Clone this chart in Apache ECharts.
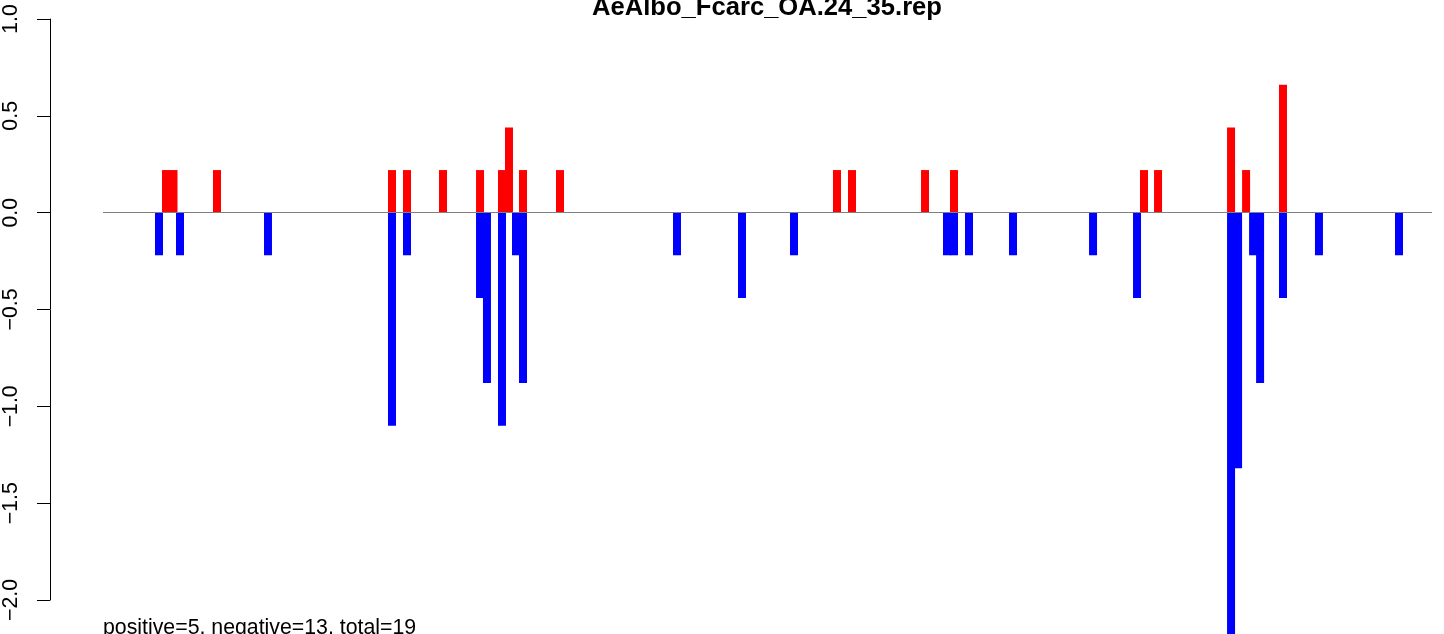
<!DOCTYPE html>
<html>
<head>
<meta charset="utf-8">
<script src="https://cdn.jsdelivr.net/npm/echarts@6/dist/echarts.min.js"></script>
<style>
  html, body { margin: 0; padding: 0; background: #fff; }
  #chart { width: 1444px; height: 634px; }
</style>
</head>
<body>
<div id="chart"></div>
<script>
// ---- data ----
const titleText = 'AeAlbo_Fcarc_OA.24_35.rep';
const footerText = 'positive=5, negative=13, total=19';

// positions along the x range (0 .. 184) and values of positive (red) bars
const posX = [8.72, 9.76, 15.78, 40.01, 42.09, 47.07, 52.20, 55.24, 56.21, 58.15,
              63.27, 101.62, 103.70, 113.81, 117.82, 144.13, 146.07, 156.18, 158.26, 163.37];
const posVal = [0.22, 0.22, 0.22, 0.22, 0.22, 0.22, 0.22, 0.22, 0.44, 0.22,
                0.22, 0.22, 0.22, 0.22, 0.22, 0.22, 0.22, 0.44, 0.22, 0.66];

// positions and values of negative (blue) bars
const negX = [7.75, 10.66, 22.84, 40.01, 42.09, 52.20, 53.16, 55.24, 57.18, 58.15,
              79.47, 88.47, 95.67, 116.85, 117.82, 119.90, 125.99, 137.07, 143.16,
              156.18, 157.15, 159.23, 160.20, 163.37, 168.35, 179.43];
const negVal = [-0.22, -0.22, -0.22, -1.10, -0.22, -0.44, -0.88, -1.10, -0.22, -0.88,
                -0.22, -0.44, -0.22, -0.22, -0.22, -0.22, -0.22, -0.22, -0.44,
                -2.20, -1.32, -0.22, -0.88, -0.44, -0.22, -0.22];

const xRange = [0, 184];          // extent of the baseline
const yTickRange = [-2, 1];       // labelled y axis
const yDataRange = [-2.175, 1];   // visible data y range (bottom of page)
const yTickStep = 0.5;

const FONT = '"Liberation Sans", Arial, Helvetica, sans-serif';
const PX_PER_UNIT = 581 / 3;

const chart = echarts.init(document.getElementById('chart'), null, { renderer: 'canvas' });

const option = {
  animation: false,
  backgroundColor: '#ffffff',
  title: {
    text: titleText,
    left: 767,
    top: -5,
    textAlign: 'center',
    padding: 0,
    textStyle: { fontFamily: FONT, fontSize: 25.6, fontWeight: 'bold', color: '#000' }
  },
  graphic: [{
    type: 'text',
    left: 103,
    top: 618,
    style: { text: footerText, font: '21.3px ' + FONT, fill: '#000' }
  }],
  grid: [
    { left: 50, top: 19, width: 1300, height: PX_PER_UNIT * (yTickRange[1] - yTickRange[0]), show: false },
    { left: 103, top: 19, width: 1329, height: PX_PER_UNIT * (yDataRange[1] - yDataRange[0]), show: false }
  ],
  xAxis: [
    { gridIndex: 0, type: 'value', min: 0, max: 1, show: false },
    { gridIndex: 1, type: 'value', min: xRange[0], max: xRange[1], show: false }
  ],
  yAxis: [
    {
      gridIndex: 0, type: 'value', min: yTickRange[0], max: yTickRange[1], interval: yTickStep,
      axisLine: { show: true, lineStyle: { color: '#000', width: 1 } },
      axisTick: { show: true, length: 13, lineStyle: { color: '#000', width: 1 } },
      splitLine: { show: false },
      axisLabel: {
        rotate: 90, margin: 28, fontSize: 21.3, fontFamily: FONT, color: '#000',
        formatter: v => v.toFixed(1).replace('-', '\u2212')
      }
    },
    { gridIndex: 1, type: 'value', min: yDataRange[0], max: yDataRange[1], show: false }
  ],
  series: [
    {
      type: 'bar', xAxisIndex: 1, yAxisIndex: 1,
      data: posX.map((x, i) => [x, posVal[i]]),
      barWidth: 8, barGap: '-100%',
      itemStyle: { color: '#ff0000' },
      markLine: {
        silent: true, symbol: ['none', 'none'],
        label: { show: false },
        lineStyle: { color: '#808080', width: 1.2, type: 'solid' },
        data: [[{ coord: [xRange[0], 0] }, { coord: [xRange[1], 0] }]]
      }
    },
    {
      type: 'bar', xAxisIndex: 1, yAxisIndex: 1,
      data: negX.map((x, i) => [x, negVal[i]]),
      barWidth: 8, barGap: '-100%',
      itemStyle: { color: '#0000ff' }
    }
  ]
};
chart.setOption(option);
</script>
</body>
</html>
